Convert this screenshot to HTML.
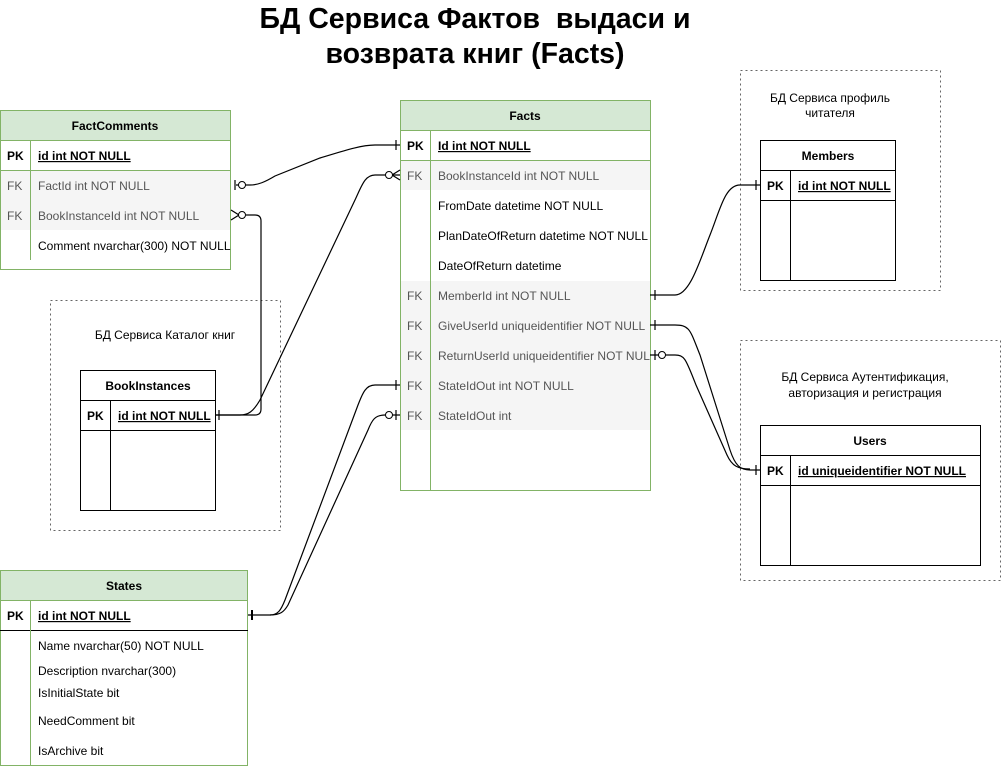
<!DOCTYPE html>
<html><head><meta charset="utf-8"><style>
html,body{margin:0;padding:0;background:#fff;}
svg{display:block;font-family:"Liberation Sans",Arial,sans-serif;}
.t{font-size:12px;fill:#000;}
.g{font-size:12px;fill:#555;}
.b{font-size:12px;font-weight:bold;}
.h{font-size:12px;font-weight:bold;text-anchor:middle;}
.c{font-size:12px;text-anchor:middle;}
.ln{fill:none;stroke:#000;stroke-width:1.2;}
</style></head><body>
<svg width="1001" height="766" viewBox="0 0 1001 766">
<defs><clipPath id="fc"><rect x="400" y="100" width="250" height="390"/></clipPath></defs>
<text x="475" y="28" font-size="28.5" font-weight="bold" text-anchor="middle">БД Сервиса Фактов&#160; выдаси и</text>
<text x="475" y="63" font-size="28.5" font-weight="bold" text-anchor="middle">возврата книг (Facts)</text>

<!-- containers -->
<rect x="740.5" y="70.5" width="200" height="220" fill="none" stroke="#666" stroke-dasharray="2,3"/>
<rect x="740.5" y="340.5" width="260" height="240" fill="none" stroke="#666" stroke-dasharray="2,3"/>
<rect x="50.5" y="300.5" width="230" height="230" fill="none" stroke="#666" stroke-dasharray="2,3"/>
<text class="c" x="830" y="102">БД Сервиса профиль</text>
<text class="c" x="830" y="117">читателя</text>
<text class="c" x="865" y="381">БД Сервиса Аутентификация,</text>
<text class="c" x="865" y="397">авторизация и регистрация</text>
<text class="c" x="165" y="339">БД Сервиса Каталог книг</text>

<!-- FactComments -->
<rect x="0.5" y="110.5" width="230" height="159" fill="#fff" stroke="#82b366"/>
<rect x="0.5" y="110.5" width="230" height="30" fill="#d5e8d4" stroke="#82b366"/>
<rect x="1" y="171" width="229" height="59" fill="#f5f5f5"/>
<line x1="0" y1="170.5" x2="230" y2="170.5" stroke="#82b366"/>
<line x1="30.5" y1="141" x2="30.5" y2="260" stroke="#82b366"/>
<text class="h" x="115" y="130">FactComments</text>
<text class="b" x="7" y="160">PK</text><text class="b" x="38" y="160" text-decoration="underline">id int NOT NULL</text>
<text class="g" x="7" y="190">FK</text><text class="g" x="38" y="190">FactId int NOT NULL</text>
<text class="g" x="7" y="220">FK</text><text class="g" x="38" y="220">BookInstanceId int NOT NULL</text>
<text class="t" x="38" y="250">Comment nvarchar(300) NOT NULL</text>

<!-- Facts -->
<rect x="400.5" y="100.5" width="250" height="390" fill="#fff" stroke="#82b366"/>
<rect x="400.5" y="100.5" width="250" height="30" fill="#d5e8d4" stroke="#82b366"/>
<rect x="401" y="161" width="249" height="29" fill="#f5f5f5"/>
<rect x="401" y="281" width="249" height="149" fill="#f5f5f5"/>
<line x1="400" y1="160.5" x2="650" y2="160.5" stroke="#82b366"/>
<line x1="430.5" y1="131" x2="430.5" y2="490" stroke="#82b366"/>
<text class="h" x="525" y="120">Facts</text>
<g clip-path="url(#fc)">
<text class="b" x="407" y="150">PK</text><text class="b" x="438" y="150" text-decoration="underline">Id int NOT NULL</text>
<text class="g" x="407" y="180">FK</text><text class="g" x="438" y="180">BookInstanceId int NOT NULL</text>
<text class="t" x="438" y="210">FromDate datetime NOT NULL</text>
<text class="t" x="438" y="240">PlanDateOfReturn datetime NOT NULL</text>
<text class="t" x="438" y="270">DateOfReturn datetime</text>
<text class="g" x="407" y="300">FK</text><text class="g" x="438" y="300">MemberId int NOT NULL</text>
<text class="g" x="407" y="330">FK</text><text class="g" x="438" y="330">GiveUserId uniqueidentifier NOT NULL</text>
<text class="g" x="407" y="360">FK</text><text class="g" x="438" y="360">ReturnUserId uniqueidentifier NOT NULL</text>
<text class="g" x="407" y="390">FK</text><text class="g" x="438" y="390">StateIdOut int NOT NULL</text>
<text class="g" x="407" y="420">FK</text><text class="g" x="438" y="420">StateIdOut int</text>
</g>

<!-- Members -->
<rect x="760.5" y="140.5" width="135" height="140" fill="#fff" stroke="#000"/>
<line x1="760" y1="170.5" x2="895" y2="170.5" stroke="#000"/>
<line x1="760" y1="200.5" x2="895" y2="200.5" stroke="#000"/>
<line x1="790.5" y1="170" x2="790.5" y2="280" stroke="#000"/>
<text class="h" x="828" y="160">Members</text>
<text class="b" x="767" y="190">PK</text><text class="b" x="798" y="190" text-decoration="underline">id int NOT NULL</text>

<!-- Users -->
<rect x="760.5" y="425.5" width="220" height="140" fill="#fff" stroke="#000"/>
<line x1="760" y1="455.5" x2="980" y2="455.5" stroke="#000"/>
<line x1="760" y1="485.5" x2="980" y2="485.5" stroke="#000"/>
<line x1="790.5" y1="455" x2="790.5" y2="565" stroke="#000"/>
<text class="h" x="870" y="445">Users</text>
<text class="b" x="767" y="475">PK</text><text class="b" x="798" y="475" text-decoration="underline">id uniqueidentifier NOT NULL</text>

<!-- BookInstances -->
<rect x="80.5" y="370.5" width="135" height="140" fill="#fff" stroke="#000"/>
<line x1="80" y1="400.5" x2="215" y2="400.5" stroke="#000"/>
<line x1="80" y1="430.5" x2="215" y2="430.5" stroke="#000"/>
<line x1="110.5" y1="400" x2="110.5" y2="510" stroke="#000"/>
<text class="h" x="148" y="390">BookInstances</text>
<text class="b" x="87" y="420">PK</text><text class="b" x="118" y="420" text-decoration="underline">id int NOT NULL</text>

<!-- States -->
<rect x="0.5" y="570.5" width="247" height="195" fill="#fff" stroke="#82b366"/>
<rect x="0.5" y="570.5" width="247" height="30" fill="#d5e8d4" stroke="#82b366"/>
<line x1="0" y1="630.5" x2="248" y2="630.5" stroke="#000"/>
<line x1="30.5" y1="601" x2="30.5" y2="765" stroke="#82b366"/>
<text class="h" x="124" y="590">States</text>
<text class="b" x="7" y="620">PK</text><text class="b" x="38" y="620" text-decoration="underline">id int NOT NULL</text>
<text class="t" x="38" y="650">Name nvarchar(50) NOT NULL</text>
<text class="t" x="38" y="675">Description nvarchar(300)</text>
<text class="t" x="38" y="697">IsInitialState bit</text>
<text class="t" x="38" y="725">NeedComment bit</text>
<text class="t" x="38" y="755">IsArchive bit</text>

<!-- connectors -->
<path class="ln" d="M400 145 H375 C360 145 340 152 320 158 L275 176 C265 182 258 185 250 185 H236"/>
<line class="ln" x1="396" y1="140" x2="396" y2="150"/>
<line class="ln" x1="235" y1="180" x2="235" y2="190"/>
<circle cx="242" cy="185" r="3.5" fill="#fff" stroke="#000"/>

<path class="ln" d="M400 175 H375 C365 175 362 185 355 200 L260 400 C253 412 248 415 240 415 H215"/>
<path class="ln" d="M400 170 L392 175 L400 180"/>
<circle cx="389" cy="175" r="3.5" fill="#fff" stroke="#000"/>
<line class="ln" x1="219" y1="410" x2="219" y2="420"/>

<path class="ln" d="M246 215 H255 Q261 215 261 221 V409 Q261 415 255 415 H215"/>
<path class="ln" d="M231 210 L239 215 L231 220"/>
<circle cx="242" cy="215" r="3.5" fill="#fff" stroke="#000"/>

<path class="ln" d="M650 295 H675 C690 295 700 260 710 235 C720 210 725 185 740 185 H760"/>
<line class="ln" x1="655" y1="290" x2="655" y2="300"/>
<line class="ln" x1="756" y1="180" x2="756" y2="190"/>

<path class="ln" d="M650 325 H675 C690 325 690 330 700 355 L730 450 C735 465 740 470 750 470 H760"/>
<line class="ln" x1="655" y1="320" x2="655" y2="330"/>
<path class="ln" d="M650 355 H675 C685 355 686 360 696 385 L727 455 C732 466 738 469 750 469"/>
<line class="ln" x1="655" y1="350" x2="655" y2="360"/>
<circle cx="662" cy="355" r="3.5" fill="#fff" stroke="#000"/>
<line class="ln" x1="756" y1="465" x2="756" y2="475"/>

<path class="ln" d="M400 385 H375 C365 385 362 395 358 405 L285 600 C281 610 278 615 270 615 H248"/>
<line class="ln" x1="396" y1="380" x2="396" y2="390"/>
<path class="ln" d="M400 415 H385 C375 415 372 420 368 430 L288 605 C284 612 280 615 270 615"/>
<line class="ln" x1="396" y1="410" x2="396" y2="420"/>
<circle cx="389" cy="415" r="3.5" fill="#fff" stroke="#000"/>
<line x1="252" y1="610" x2="252" y2="620" stroke="#000" stroke-width="2"/>
</svg>
</body></html>
